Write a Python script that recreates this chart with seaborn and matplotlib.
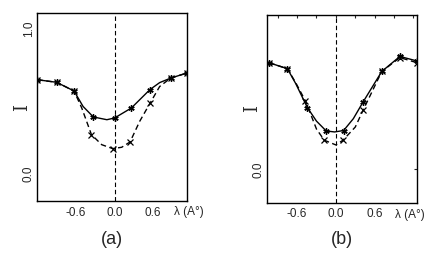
import matplotlib
matplotlib.use("Agg")
import matplotlib.pyplot as plt
import matplotlib.transforms as mtransforms
import seaborn as sns

# panel (a): line profiles, solid and dashed
a_solid_x = [-1.20, -0.90, -0.63, -0.49, -0.33, -0.12, 0.00, 0.26, 0.55, 0.70, 0.87, 1.12]
a_solid_y = [0.650, 0.632, 0.572, 0.465, 0.392, 0.373, 0.385, 0.454, 0.582, 0.630, 0.661, 0.696]
a_solid_marks = [0, 1, 2, 4, 6, 7, 8, 10, 11]

a_dash_x = [-1.20, -0.90, -0.63, -0.51, -0.36, -0.20, -0.03, 0.11, 0.24, 0.39, 0.55, 0.70, 0.87, 1.12]
a_dash_y = [0.650, 0.632, 0.572, 0.454, 0.270, 0.200, 0.173, 0.182, 0.219, 0.362, 0.487, 0.603, 0.661, 0.696]
a_dash_marks = [0, 1, 2, 4, 6, 8, 10, 12, 13]

# panel (b)
b_solid_x = [-1.03, -0.75, -0.62, -0.44, -0.30, -0.15, -0.02, 0.12, 0.27, 0.42, 0.71, 0.99, 1.25]
b_solid_y = [0.739, 0.698, 0.594, 0.428, 0.335, 0.267, 0.260, 0.270, 0.352, 0.467, 0.679, 0.783, 0.752]
b_solid_marks = [0, 1, 3, 5, 7, 9, 10, 11, 12]

b_dash_x = [-1.03, -0.75, -0.62, -0.47, -0.30, -0.18, 0.00, 0.11, 0.30, 0.42, 0.71, 0.99, 1.25]
b_dash_y = [0.739, 0.698, 0.600, 0.474, 0.280, 0.203, 0.170, 0.203, 0.294, 0.410, 0.679, 0.775, 0.740]
b_dash_marks = [0, 1, 3, 5, 7, 9, 10, 11, 12]

x_ticks_a = [-0.9, -0.6, -0.3, 0.0, 0.3, 0.6, 0.9]
x_ticks_b = [-0.9, -0.6, -0.3, 0.0, 0.3, 0.6, 0.9, 1.2]
x_labelled = {-0.6: "-0.6", 0.0: "0.0", 0.6: "0.6"}
y_ticks_a = [0.0, 1.0]
y_ticks_b = [0.0]


def tick_labels(ticks):
    return [x_labelled.get(round(t, 1), "") for t in ticks]


def draw_panel(ax, sx, sy, smarks, dx, dy, dmarks, xlim, ylim, xticks, yticks, lam_y):
    # seaborn gives markers a white edge by default, so set it black
    sns.lineplot(x=sx, y=sy, ax=ax, color="black", lw=1.0, sort=False,
                 marker=(6, 2, 0), markersize=4.5, markeredgewidth=1.0,
                 markeredgecolor="black", markevery=smarks)
    sns.lineplot(x=dx, y=dy, ax=ax, color="black", lw=1.0, sort=False,
                 linestyle=(0, (4, 2.5)), marker="x", markersize=4,
                 markeredgewidth=0.9, markeredgecolor="black", markevery=dmarks)
    ax.axvline(0.0, color="black", lw=0.8, linestyle=(0, (4, 2.5)))
    ax.set_xlim(*xlim)
    ax.set_ylim(*ylim)
    ax.set_xticks(xticks)
    ax.set_xticklabels(tick_labels(xticks))
    ax.set_yticks(yticks)
    ax.set_yticklabels([f"{t:.1f}" for t in yticks], rotation=90, va="center")
    ax.tick_params(direction="in", length=2.5, width=0.8, labelsize=8.5)
    ax.tick_params(axis="x", pad=4)
    ax.tick_params(axis="y", pad=1.5)
    for sp in ax.spines.values():
        sp.set_visible(True)
        sp.set_linewidth(1.0)
        sp.set_color("black")
    ax.set_xlabel("")
    ax.set_ylabel("")
    ax.text(-0.10, 0.5, "I", transform=ax.transAxes, rotation=90,
            ha="center", va="center", fontsize=13, family="DejaVu Serif")
    trans = mtransforms.blended_transform_factory(ax.transData, ax.transAxes)
    ax.text(1.15, lam_y, "λ (A°)", transform=trans, ha="center", va="center",
            fontsize=8.5, clip_on=False)


sns.set_style("white")
plt.rcParams["font.family"] = ["Liberation Sans", "DejaVu Sans"]

fig = plt.figure(figsize=(4.36, 2.56), dpi=100)
ax_a = fig.add_axes([36.7 / 436, 55 / 256, 150 / 436, 187.7 / 256])
ax_b = fig.add_axes([266.7 / 436, 53.3 / 256, 150 / 436, 187.7 / 256])

draw_panel(ax_a, a_solid_x, a_solid_y, a_solid_marks, a_dash_x, a_dash_y, a_dash_marks,
           (-1.21, 1.12), (-0.19, 1.11), x_ticks_a, y_ticks_a, -0.057)
draw_panel(ax_b, b_solid_x, b_solid_y, b_solid_marks, b_dash_x, b_dash_y, b_dash_marks,
           (-1.07, 1.25), (-0.23, 1.07), x_ticks_b, y_ticks_b, -0.066)
ax_b.tick_params(top=True, right=True)

fig.text(111.7 / 436, 1 - 240 / 256, "(a)", ha="center", va="center", fontsize=13)
fig.text(341.7 / 436, 1 - 240 / 256, "(b)", ha="center", va="center", fontsize=13)

fig.savefig("out.png", dpi=100, facecolor="white")
plt.close(fig)
